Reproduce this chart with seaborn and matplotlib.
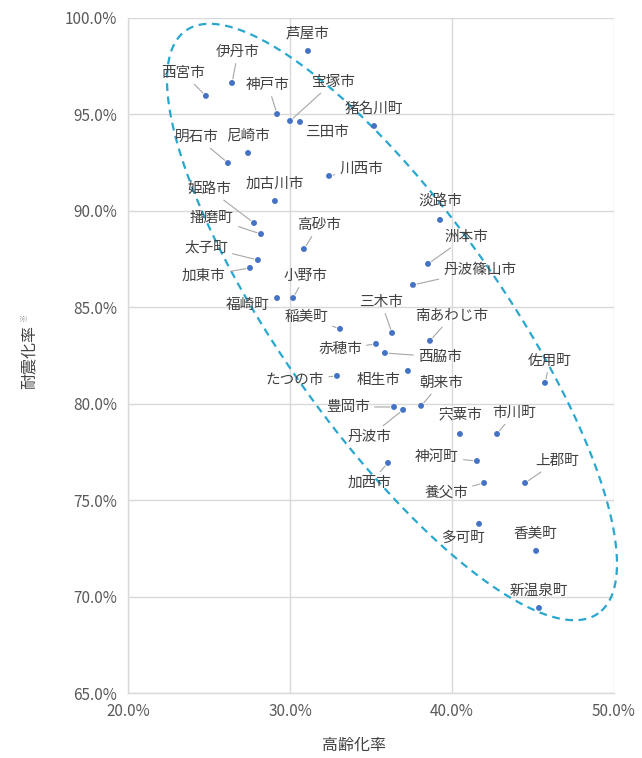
import numpy as np
import matplotlib
matplotlib.use("Agg")
import matplotlib.pyplot as plt
import seaborn as sns
import pandas as pd
from matplotlib.ticker import FuncFormatter

# 兵庫県 市町別 高齢化率と耐震化率
municipalities = [
    "芦屋市", "伊丹市", "西宮市", "神戸市", "宝塚市", "三田市", "猪名川町", "尼崎市",
    "明石市", "川西市", "加古川市", "姫路市", "播磨町", "高砂市", "太子町", "加東市",
    "福崎町", "小野市", "稲美町", "三木市", "赤穂市", "西脇市", "南あわじ市", "相生市",
    "たつの市", "朝来市", "豊岡市", "丹波市", "宍粟市", "市川町", "神河町", "加西市",
    "養父市", "上郡町", "多可町", "香美町", "新温泉町", "淡路市", "洲本市", "丹波篠山市",
    "佐用町",
]
aging_rate = [
    31.11, 26.42, 24.81, 29.20, 30.00, 30.62, 35.19, 27.41,
    26.17, 32.41, 29.07, 27.78, 28.21, 30.86, 28.02, 27.53,
    29.20, 30.19, 33.09, 36.30, 35.31, 35.86, 38.64, 37.28,
    32.90, 38.09, 36.42, 36.98, 40.49, 42.78, 41.54, 36.05,
    41.98, 44.51, 41.67, 45.19, 45.37, 39.26, 38.52, 37.59,
    45.74,
]
seismic_rate = [
    98.29, 96.63, 95.96, 95.02, 94.66, 94.61, 94.40, 93.00,
    92.48, 91.81, 90.51, 89.37, 88.80, 88.02, 87.45, 87.04,
    85.48, 85.48, 83.88, 83.67, 83.10, 82.63, 83.26, 81.70,
    81.44, 79.89, 79.83, 79.68, 78.43, 78.43, 77.03, 76.93,
    75.89, 75.89, 73.77, 72.37, 69.41, 89.53, 87.25, 86.16,
    81.08,
]
x_ticks = [20, 30, 40, 50]
y_ticks = [65, 70, 75, 80, 85, 90, 95, 100]

# label placement: (dx, dy) in pixels from the point, and whether a leader line is drawn
label_layout = {
    "芦屋市": (0, 18, False), "伊丹市": (6, 31, True), "西宮市": (-23, 23, True),
    "神戸市": (-9, 29, True), "宝塚市": (43, 39, True), "三田市": (27, -10, False),
    "猪名川町": (0, 17, False), "尼崎市": (0, 18, False), "明石市": (-31, 26, True),
    "川西市": (32, 7, True), "加古川市": (0, 17, False), "姫路市": (-45, 34, True),
    "播磨町": (-49, 16, True), "高砂市": (15, 24, True), "太子町": (-52, 13, True),
    "加東市": (-46, -8, True), "福崎町": (-29, -7, False), "小野市": (12, 22, True),
    "稲美町": (-34, 12, True), "三木市": (-11, 31, True), "赤穂市": (-36, -5, True),
    "西脇市": (55, -4, True), "南あわじ市": (22, 25, True), "相生市": (-29, -9, False),
    "たつの市": (-42, -4, True), "朝来市": (20, 23, True), "豊岡市": (-46, 0, True),
    "丹波市": (-34, -27, True), "宍粟市": (0, 19, False), "市川町": (17, 21, True),
    "神河町": (-40, 4, True), "加西市": (-18, -20, True), "養父市": (-38, -10, True),
    "上郡町": (32, 22, True), "多可町": (-16, -14, False), "香美町": (-1, 17, False),
    "新温泉町": (0, 17, False), "淡路市": (0, 18, False), "洲本市": (38, 27, True),
    "丹波篠山市": (67, 15, True), "佐用町": (5, 22, True),
}

df = pd.DataFrame({"name": municipalities, "aging": aging_rate, "seismic": seismic_rate})

sns.set_theme(style="whitegrid")
plt.rcParams["font.family"] = ["Noto Sans CJK JP", "DejaVu Sans"]

W, H = 642, 758
fig = plt.figure(figsize=(W / 100, H / 100), dpi=100)
ax_left, ax_right, ax_top, ax_bottom = 128, 614, 18, 693
ax = fig.add_axes([ax_left / W, 1 - ax_bottom / H,
                   (ax_right - ax_left) / W, (ax_bottom - ax_top) / H])

sns.scatterplot(data=df, x="aging", y="seismic", ax=ax, color="#4472C4",
                s=18, edgecolor="none", zorder=3, legend=False)

ax.set_xlim(20, 50)
ax.set_ylim(65, 100)
ax.set_xticks(x_ticks)
ax.set_yticks(y_ticks)
pct = FuncFormatter(lambda v, p: f"{v:.1f}%")
ax.xaxis.set_major_formatter(pct)
ax.yaxis.set_major_formatter(pct)
ax.tick_params(axis="both", colors="#595959", labelsize=11, length=0)
ax.tick_params(axis="x", pad=7)
ax.tick_params(axis="y", pad=8)
ax.grid(True, color="#d9d9d9", linewidth=1.0)
for side in ["top", "right"]:
    ax.spines[side].set_visible(False)
for side in ["left", "bottom"]:
    ax.spines[side].set_color("#d9d9d9")
    ax.spines[side].set_linewidth(1.0)

ax_w, ax_h = ax_right - ax_left, ax_bottom - ax_top
ax.set_xlabel("高齢化率", fontsize=11.5, color="#404040", va="center")
ax.set_ylabel("耐震化率", fontsize=11.5, color="#404040", va="center")
ax.xaxis.set_label_coords((354 - ax_left) / ax_w, -(745 - ax_bottom) / ax_h)
ax.yaxis.set_label_coords(-(ax_left - 29) / ax_w, (ax_bottom - 357) / ax_h)
fig.text(24 / W, 1 - 317 / H, "※", fontsize=6, color="#8c8c8c", rotation=90,
         ha="center", va="center")

# municipality labels
for name, xv, yv in zip(municipalities, aging_rate, seismic_rate):
    dx, dy, leader = label_layout[name]
    arrow = dict(arrowstyle="-", color="#a6a6a6", lw=0.8, shrinkA=1, shrinkB=3) if leader else None
    ax.annotate(name, (xv, yv), xytext=(dx, dy), textcoords="offset pixels",
                ha="center", va="center", fontsize=10.5, color="#404040",
                arrowprops=arrow, zorder=4)

# dashed ellipse grouping the points, defined in pixel units on the plot
px_x = ax_w / 30.0
px_y = ax_h / 35.0
cx, cy = 20 + (392 - ax_left) / px_x, 100 - (322 - ax_top) / px_y
a_px, b_px, theta = 357, 110, np.deg2rad(54.7)
t = np.linspace(0, 2 * np.pi, 400)
xo = a_px * np.cos(t) * np.cos(theta) - b_px * np.sin(t) * np.sin(theta)
yo = a_px * np.cos(t) * np.sin(theta) + b_px * np.sin(t) * np.cos(theta)
ax.plot(cx + xo / px_x, cy - yo / px_y, color="#2aa7cf", lw=1.6,
        linestyle=(0, (3.5, 2.5)), zorder=2, clip_on=False)

fig.savefig("out.png", dpi=100)
